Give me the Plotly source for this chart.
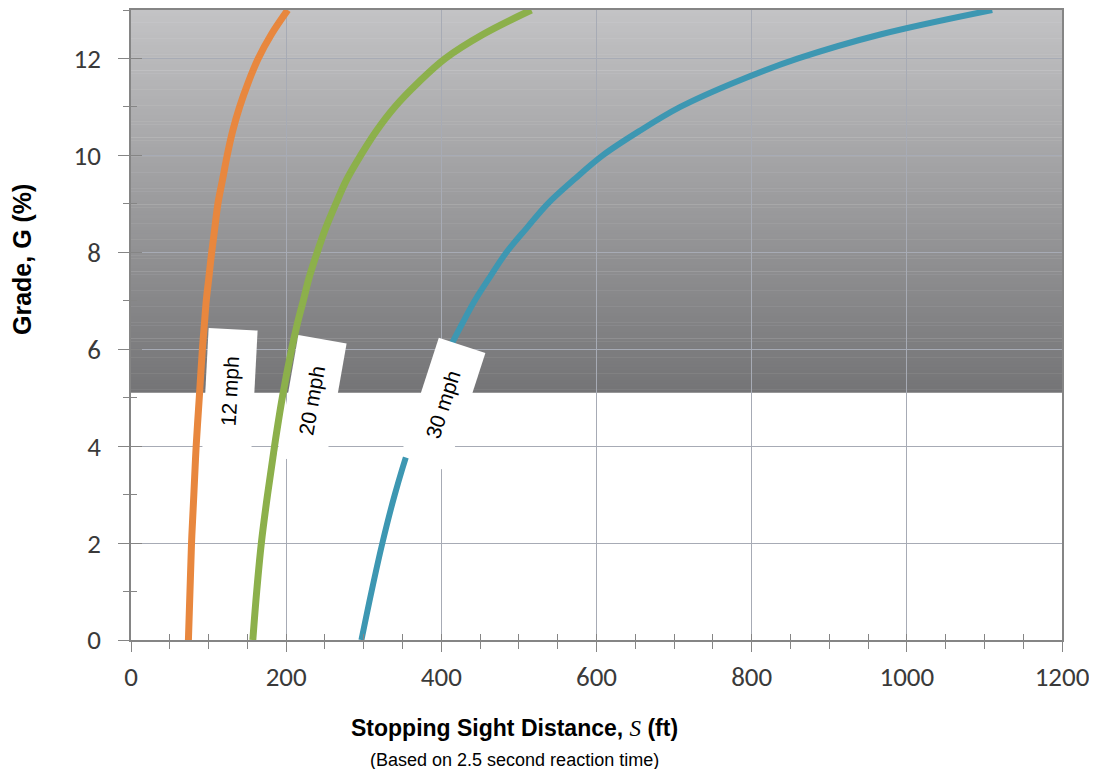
import plotly.graph_objects as go

# ---- data ----
grade = [0, 1, 2, 3, 4, 5, 6, 6.5, 7, 7.5, 8, 8.5, 9, 9.5, 10, 10.5, 11, 11.5, 12, 12.5, 13]   # Grade, G (%)
ssd_12mph = [74, 76, 78, 81, 84, 88, 92, 94.5, 97, 100.5, 104, 108, 112, 118, 124, 131, 140, 151, 164, 181, 202]
ssd_20mph = [157, 162, 168, 176, 185, 195, 207, 214, 222, 230, 240, 251, 264, 278, 296, 316, 340, 370, 405, 454, 516]
ssd_30mph = [297, 310, 324, 340, 359, 382, 410, 426, 443, 463, 484, 510, 537, 571, 608, 655, 708, 777, 860, 967, 1110]
series_names = ["12 mph", "20 mph", "30 mph"]
shaded_from_grade = 5.1      # grey band starts at this grade
x_ticks = [0, 200, 400, 600, 800, 1000, 1200]
y_ticks = [0, 2, 4, 6, 8, 10, 12]

# ---- styling ----
colors = ["#E8873E", "#8CB04B", "#3D97B2"]
widths = [7, 7, 6]
X_RANGE = [0, 1200]
Y_RANGE = [0, 13]
TICK_FONT = dict(family="Carlito, Lato, sans-serif", size=27, color="#3a3a3a")
AX_COLOR = "#858585"
GRID_COLOR = "#a7abb5"

fig = go.Figure()

for name, xs, col, w in zip(series_names, [ssd_12mph, ssd_20mph, ssd_30mph], colors, widths):
    fig.add_trace(go.Scatter(x=xs, y=grade, mode="lines", name=name,
                             line=dict(color=col, width=w, shape="spline", smoothing=1.0),
                             showlegend=False, hoverinfo="skip"))

# dummy trace for the overlay axes (inside halves of the crossing ticks)
fig.add_trace(go.Scatter(x=[None], y=[None], xaxis="x2", yaxis="y2",
                         showlegend=False, hoverinfo="skip"))

# grey vertical gradient band (stripes), drawn below the gridlines
n = 120
top_c, bot_c = 195, 116
for i in range(n):
    y0 = shaded_from_grade + (Y_RANGE[1] - shaded_from_grade) * i / n
    y1 = shaded_from_grade + (Y_RANGE[1] - shaded_from_grade) * (i + 1) / n
    f = (i + 0.5) / n
    c = int(round(bot_c + (top_c - bot_c) * f))
    fig.add_shape(type="rect", xref="x", yref="y", x0=X_RANGE[0], x1=X_RANGE[1],
                  y0=y0, y1=y1 + 0.01, fillcolor=f"rgb({c},{c},{c+2})",
                  line=dict(width=0), layer="below")

# rotated white speed labels
label_place = [(128, 5.14, -87), (233, 4.94, -80), (402, 4.86, -72)]
for name, (lx, ly, ang) in zip(series_names, label_place):
    fig.add_annotation(x=lx, y=ly, xref="x", yref="y", text=name, showarrow=False,
                       textangle=ang, width=124, height=49, bgcolor="white",
                       borderpad=0, borderwidth=0, align="center", valign="middle",
                       font=dict(family="Liberation Sans, Arial", size=21, color="black"),
                       xanchor="center", yanchor="middle")

# axis titles
fig.add_annotation(xref="paper", yref="paper", x=0.4114, y=-0.139,
                   text='<b>Stopping Sight Distance, </b><i><span style="font-family:Liberation Serif">S</span></i><b> (ft)</b>',
                   showarrow=False, xanchor="center", yanchor="middle",
                   font=dict(family="Liberation Sans, Arial", size=23, color="black"))
fig.add_annotation(xref="paper", yref="paper", x=0.4114, y=-0.19,
                   text="(Based on 2.5 second reaction time)",
                   showarrow=False, xanchor="center", yanchor="middle",
                   font=dict(family="Liberation Sans, Arial", size=18, color="black"))
fig.add_annotation(xref="paper", yref="paper", x=-0.1165, y=0.604,
                   text="<b>Grade, G (%)</b>", textangle=-90,
                   showarrow=False, xanchor="center", yanchor="middle",
                   font=dict(family="Liberation Sans, Arial", size=25, color="black"))

# page body has an 8px margin: size/margins chosen so the plot area lands at
# x 131..1062, y 8..640 in the 1097x769 window
fig.update_layout(
    width=1089, height=761,
    margin=dict(l=123, r=35, t=0, b=129),
    paper_bgcolor="white", plot_bgcolor="white",
    xaxis=dict(range=X_RANGE, tickvals=x_ticks, ticks="outside", ticklen=10,
               tickcolor=AX_COLOR, tickwidth=1.3, tickfont=TICK_FONT,
               ticklabelstandoff=2,
               showgrid=True, gridcolor=GRID_COLOR, gridwidth=1.3,
               showline=True, linecolor=AX_COLOR, linewidth=1.5, mirror=True,
               zeroline=False,
               minor=dict(dtick=50, tick0=0, ticks="outside", ticklen=7,
                          tickcolor=AX_COLOR, tickwidth=1.3, showgrid=False)),
    yaxis=dict(range=Y_RANGE, tickvals=y_ticks, ticks="outside", ticklen=11,
               tickcolor=AX_COLOR, tickwidth=1.3, tickfont=TICK_FONT,
               ticklabelstandoff=12,
               showgrid=True, gridcolor=GRID_COLOR, gridwidth=1.3,
               showline=True, linecolor=AX_COLOR, linewidth=1.5, mirror=True,
               zeroline=False,
               minor=dict(dtick=1, tick0=0, ticks="outside", ticklen=6,
                          tickcolor=AX_COLOR, tickwidth=1.3, showgrid=False)),
    xaxis2=dict(range=X_RANGE, overlaying="x", anchor="y2", tickvals=x_ticks,
                ticks="inside", ticklen=6, tickcolor=AX_COLOR, tickwidth=1.3,
                showticklabels=False, showgrid=False, showline=False, zeroline=False,
                minor=dict(dtick=50, tick0=0, ticks="inside", ticklen=6,
                           tickcolor=AX_COLOR, tickwidth=1.3, showgrid=False)),
    yaxis2=dict(range=Y_RANGE, overlaying="y", anchor="x2", side="left", tickvals=y_ticks,
                ticks="inside", ticklen=11, tickcolor=AX_COLOR, tickwidth=1.3,
                showticklabels=False, showgrid=False, showline=False, zeroline=False,
                minor=dict(dtick=1, tick0=0, ticks="inside", ticklen=6,
                           tickcolor=AX_COLOR, tickwidth=1.3, showgrid=False)),
)

fig.write_html("out.html")
